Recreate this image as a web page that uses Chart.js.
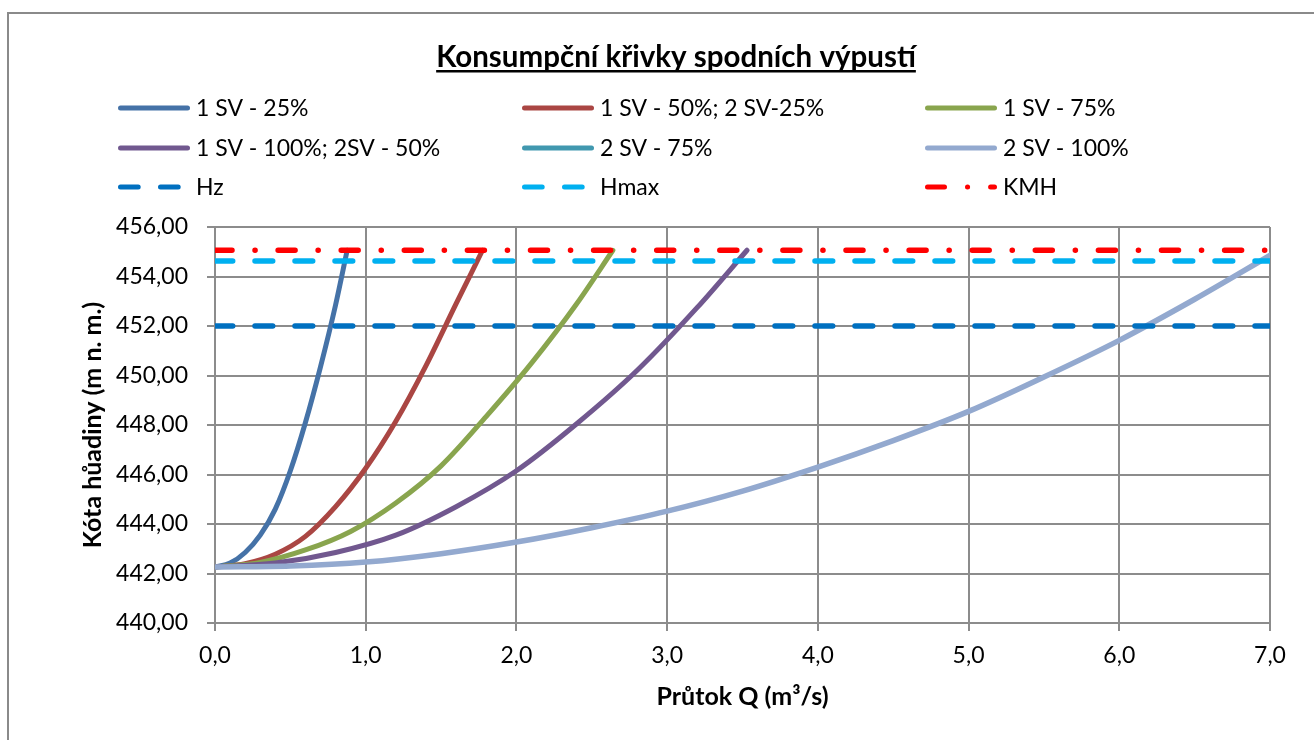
<!DOCTYPE html>
<html>
  <head>
    <meta charset="utf-8">
    <title>Konsumpční křivky spodních výpustí</title>
    <style>
      html, body { margin: 0; padding: 0; background: #fff; }
      #wrap { position: relative; width: 1314px; height: 740px; }
    </style>
    <script src="https://cdn.jsdelivr.net/npm/chart.js@4.4.0/dist/chart.umd.min.js"></script>
  </head>
  <body>
  <div id="wrap"><canvas id="myChart" width="1314" height="740"></canvas></div>

  <script type="text/javascript">
    // průtok Q (m3/s) a kóta hladiny (m n. m.) pro jednotlivá otevření výpustí
    var q25 = [0, 0.1, 0.2, 0.3, 0.4, 0.5, 0.6, 0.7, 0.8, 0.877];
    var h25 = [442.26, 442.42, 442.85, 443.55, 444.6, 446.15, 448.1, 450.35, 452.85, 455.06];

    var q50 = [0, 0.2, 0.4, 0.6, 0.8, 1.0, 1.2, 1.4, 1.6, 1.775];
    var h50 = [442.26, 442.4, 442.78, 443.5, 444.7, 446.25, 448.15, 450.4, 452.9, 455.06];

    var q75 = [0, 0.3, 0.6, 0.9, 1.2, 1.5, 1.8, 2.1, 2.4, 2.64];
    var h75 = [442.26, 442.45, 442.95, 443.7, 444.85, 446.35, 448.35, 450.5, 452.9, 455.06];

    var q100 = [0, 0.4, 0.8, 1.2, 1.6, 2.0, 2.4, 2.8, 3.2, 3.53];
    var h100 = [442.26, 442.42, 442.85, 443.55, 444.7, 446.15, 448.05, 450.2, 452.75, 455.06];

    var q2x75 = [];
    var h2x75 = [];

    var q2x100 = [0, 0.5, 1.0, 1.5, 2.0, 2.5, 3.0, 3.5, 4.0, 4.5, 5.0, 5.5, 6.0, 6.5, 7.0];
    var h2x100 = [442.26, 442.3, 442.46, 442.8, 443.27, 443.85, 444.52, 445.33, 446.3, 447.37, 448.55, 449.94, 451.42, 453.08, 454.85];

    // vodorovné hladiny
    var qLimits = [0, 7];
    var Hz = 452.00;
    var Hmax = 454.63;
    var KMH = 455.06;

    var labels = ['1 SV - 25%', '1 SV - 50%; 2 SV-25%', '1 SV - 75%',
                  '1 SV - 100%; 2SV - 50%', '2 SV - 75%', '2 SV - 100%',
                  'Hz', 'Hmax', 'KMH'];

    function pts(qs, hs) {
      return qs.map(function (q, i) { return { x: q, y: hs[i] }; });
    }

    var fontName = 'Lato, sans-serif';
    var gridColor = '#8c8c8c';

    // rámeček, nadpis a legenda ve třech sloupcích
    var decor = {
      id: 'decor',
      beforeDraw: function (chart) {
        var c = chart.ctx;
        c.save();
        c.fillStyle = '#fff';
        c.fillRect(0, 0, chart.width, chart.height);
        c.strokeStyle = '#8a8a8a';
        c.lineWidth = 2;
        c.strokeRect(8, 13, 1400, 800);
        c.restore();
      },
      afterDraw: function (chart) {
        var c = chart.ctx;
        c.save();
        // nadpis
        var title = 'Konsumpční křivky spodních výpustí';
        c.font = 'bold 29.5px ' + fontName;
        c.fillStyle = '#000';
        c.textAlign = 'center';
        c.textBaseline = 'middle';
        c.fillText(title, 676, 57);
        var w = c.measureText(title).width;
        c.fillRect(676 - w / 2, 70, w, 2.5);

        // legenda
        var colX = [118, 522, 925];
        var rowY = [108, 148, 187];
        c.textAlign = 'left';
        c.font = '23px ' + fontName;
        chart.data.datasets.forEach(function (ds, i) {
          var x = colX[i % 3], y = rowY[Math.floor(i / 3)];
          c.strokeStyle = ds.borderColor;
          c.lineWidth = 5;
          c.lineCap = 'round';
          c.setLineDash(ds.borderDash || []);
          c.beginPath();
          c.moveTo(x + 2.5, y);
          c.lineTo(x + 69.5, y);
          c.stroke();
          c.setLineDash([]);
          c.fillStyle = '#000';
          c.fillText(ds.label, x + 78, y + 1);
        });
        c.restore();
      }
    };

    var styles = [
      { color: '#4572A7', width: 5 },
      { color: '#AA4643', width: 5 },
      { color: '#89A54E', width: 5 },
      { color: '#71588F', width: 5 },
      { color: '#4198AF', width: 5 },
      { color: '#93A9CF', width: 5.5 },
      { color: '#0070C0', width: 5.5, dash: [17.7, 22.3] },
      { color: '#00B0F0', width: 5.5, dash: [17.7, 22.3] },
      { color: '#FF0000', width: 5.5, dash: [17, 23, 0.1, 23] }
    ];

    var series = [
      pts(q25, h25), pts(q50, h50), pts(q75, h75), pts(q100, h100),
      pts(q2x75, h2x75), pts(q2x100, h2x100),
      pts(qLimits, [Hz, Hz]), pts(qLimits, [Hmax, Hmax]), pts(qLimits, [KMH, KMH])
    ];

    var datasets = series.map(function (data, i) {
      return {
        label: labels[i],
        data: data,
        borderColor: styles[i].color,
        backgroundColor: styles[i].color,
        borderWidth: styles[i].width,
        borderDash: styles[i].dash || [],
        borderCapStyle: 'round',
        borderJoinStyle: 'round',
        cubicInterpolationMode: 'monotone',
        fill: false,
        pointRadius: 0,
        order: series.length - i
      };
    });

    var ctx = document.getElementById('myChart').getContext('2d');
    var chart = new Chart(ctx, {
      type: 'line',
      data: { datasets: datasets },
      options: {
        responsive: false,
        animation: false,
        layout: { padding: { top: 227, right: 44, left: 0, bottom: 0 } },
        plugins: {
          legend: { display: false },
          title: { display: false },
          tooltip: { enabled: false }
        },
        scales: {
          x: {
            type: 'linear',
            min: 0,
            max: 7,
            afterFit: function (s) { s.height = 117; },
            grid: { color: gridColor, lineWidth: 2, tickLength: 8 },
            border: { color: gridColor, width: 2 },
            ticks: {
              stepSize: 1,
              color: '#000',
              padding: 11,
              font: { family: fontName, size: 23 },
              callback: function (v) { return v.toFixed(1).replace('.', ','); }
            },
            title: {
              display: true,
              text: 'Průtok Q (m³/s)',
              color: '#000',
              font: { family: fontName, size: 25, weight: 'bold' },
              padding: { top: 0, bottom: 28 }
            }
          },
          y: {
            min: 440,
            max: 456,
            afterFit: function (s) { s.width = 215; },
            grid: { color: gridColor, lineWidth: 2, tickLength: 8 },
            border: { color: gridColor, width: 2 },
            ticks: {
              stepSize: 2,
              color: '#000',
              padding: 19,
              font: { family: fontName, size: 23 },
              callback: function (v) { return v.toFixed(2).replace('.', ','); }
            },
            title: {
              display: true,
              text: 'Kóta hůadiny (m n. m.)',
              color: '#000',
              font: { family: fontName, size: 25, weight: 'bold' },
              padding: { top: 78, bottom: 0 }
            }
          }
        }
      },
      plugins: [decor]
    });
  </script>
  </body>
</html>
